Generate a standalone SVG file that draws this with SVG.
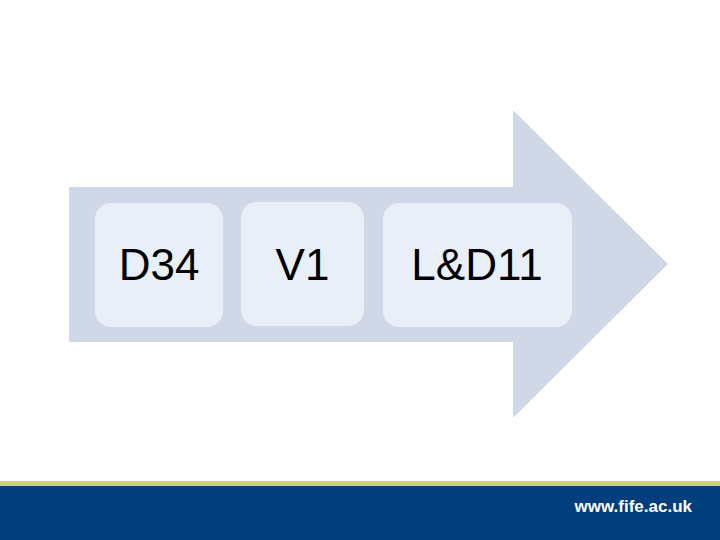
<svg xmlns="http://www.w3.org/2000/svg" width="720" height="540" viewBox="0 0 720 540">
<style>
.box{fill:#E9EFF9}
.lbl{font-family:"Liberation Sans",Arial,sans-serif;font-size:44px;fill:#000;text-anchor:middle}
</style>
<rect width="720" height="540" fill="#fff"/>
<g id="arrow"><polygon points="69,187 513,187 513,110 668,264 513,418 513,342 69,342" fill="#D0D7E6"/></g>
<g id="n1"><rect class="box" x="95" y="203" width="128" height="124" rx="16"/><text class="lbl" x="159" y="280">D34</text></g>
<g id="n2"><rect class="box" x="241" y="202" width="123" height="124" rx="16"/><text class="lbl" x="302.5" y="280">V1</text></g>
<g id="n3"><rect class="box" x="383" y="203" width="189" height="124" rx="16"/><text class="lbl" x="477" y="280">L&amp;D11</text></g>
<g id="connectors"/>
<g id="footer">
<rect x="0" y="481" width="720" height="6" fill="#C9D55C"/>
<rect x="0" y="486" width="720" height="54" fill="#003E7C"/>
<text x="692" y="512" font-family="Liberation Sans,Arial,sans-serif" font-weight="bold" font-size="17" fill="#fff" text-anchor="end">www.fife.ac.uk</text>
</g>
</svg>
